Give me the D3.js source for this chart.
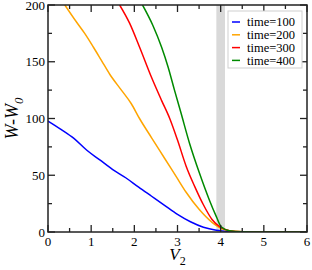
<!DOCTYPE html>
<html>
<head>
<meta charset="utf-8">
<script src="https://cdn.jsdelivr.net/npm/d3@7"></script>
<style>
  body { margin: 0; background: #fff; }
  svg { display: block; font-family: "Liberation Serif", "DejaVu Serif", serif; }
</style>
</head>
<body>
<div id="chart"></div>
<script>
// series: V2 positions and W-W0 values
const seriesNames = ['time=100', 'time=200', 'time=300', 'time=400']
const seriesColors = ['#0000ff', '#ffa500', '#ff0000', '#008a00']

const vBlue = [0, 0.3, 0.6, 0.9, 1.2, 1.5, 1.8, 2.1, 2.4, 2.7, 3.0, 3.3, 3.6, 3.9, 4.2, 4.5, 5, 6]
const wBlue = [97.8, 90.5, 82.5, 72, 63.5, 55, 47.8, 39.5, 31.5, 23.5, 15.5, 9, 4.2, 1.6, 0.5, 0.1, 0, 0]

const vOrange = [0.39, 0.66, 0.85, 1.05, 1.24, 1.43, 1.7, 1.93, 2.12, 2.4, 2.7, 3.0, 3.2, 3.5, 3.8, 4.05, 4.3, 4.6, 5, 6]
const wOrange = [200, 185, 175, 163, 151, 139, 125, 113, 100, 83, 65, 47, 35, 20, 8.5, 2.5, 0.6, 0.1, 0, 0]

const vRed = [1.66, 1.89, 2.12, 2.39, 2.63, 2.82, 3.0, 3.2, 3.4, 3.6, 3.8, 4.0, 4.2, 4.5, 5, 6]
const wRed = [200, 184, 163, 137, 116, 100, 81, 58, 40, 24, 11, 4, 1.2, 0.2, 0, 0]

const vGreen = [2.19, 2.43, 2.63, 2.78, 2.93, 3.08, 3.28, 3.51, 3.74, 3.9, 4.01, 4.2, 4.5, 5, 6]
const wGreen = [200, 182, 163, 145.6, 125, 105, 78, 51.7, 28, 13.5, 4.7, 1.2, 0.2, 0, 0]

const xTicks = [0, 1, 2, 3, 4, 5, 6]
const yTicks = [0, 50, 100, 150, 200]
const band = [3.9, 4.1]

window.addEventListener('load', () => {
  let W = 312, H = 270
  let left = 48, right = 307, top = 5, bottom = 232

  let svg = d3.select('#chart').append('svg')
    .attr('width', W)
    .attr('height', H)

  let x = d3.scaleLinear().domain([0, 6]).range([left, right])
  let y = d3.scaleLinear().domain([0, 200]).range([bottom, top])

  svg.append('clipPath').attr('id', 'clip')
    .append('rect')
    .attr('x', left).attr('y', top)
    .attr('width', right - left).attr('height', bottom - top)

  // grey band around V2 = 4
  svg.append('rect')
    .attr('x', x(band[0]))
    .attr('y', top)
    .attr('width', x(band[1]) - x(band[0]))
    .attr('height', bottom - top)
    .attr('fill', '#d9d9d9')

  let all = [[vBlue, wBlue], [vOrange, wOrange], [vRed, wRed], [vGreen, wGreen]]
  let line = d3.line()
    .x(d => x(d[0]))
    .y(d => y(d[1]))
    .curve(d3.curveMonotoneX)

  let plot = svg.append('g').attr('clip-path', 'url(#clip)')
  all.forEach((s, i) => {
    let pts = s[0].map((v, j) => [v, s[1][j]])
    plot.append('path')
      .attr('d', line(pts))
      .attr('fill', 'none')
      .attr('stroke', seriesColors[i])
      .attr('stroke-width', 1.5)
  })

  // ticks inside on all four sides
  let minorX = d3.range(0.5, 6, 1)
  let minorY = d3.range(25, 200, 50)
  let axisColor = '#222'
  let tk = svg.append('g').attr('stroke', axisColor).attr('stroke-width', 1.3)
  xTicks.forEach(v => {
    tk.append('line').attr('x1', x(v)).attr('x2', x(v)).attr('y1', bottom).attr('y2', bottom - 7)
    tk.append('line').attr('x1', x(v)).attr('x2', x(v)).attr('y1', top).attr('y2', top + 7)
  })
  minorX.forEach(v => {
    tk.append('line').attr('x1', x(v)).attr('x2', x(v)).attr('y1', bottom).attr('y2', bottom - 4)
    tk.append('line').attr('x1', x(v)).attr('x2', x(v)).attr('y1', top).attr('y2', top + 4)
  })
  yTicks.forEach(v => {
    tk.append('line').attr('x1', left).attr('x2', left + 7).attr('y1', y(v)).attr('y2', y(v))
    tk.append('line').attr('x1', right).attr('x2', right - 7).attr('y1', y(v)).attr('y2', y(v))
  })
  minorY.forEach(v => {
    tk.append('line').attr('x1', left).attr('x2', left + 4).attr('y1', y(v)).attr('y2', y(v))
    tk.append('line').attr('x1', right).attr('x2', right - 4).attr('y1', y(v)).attr('y2', y(v))
  })

  svg.append('rect')
    .attr('x', left).attr('y', top)
    .attr('width', right - left).attr('height', bottom - top)
    .attr('fill', 'none')
    .attr('stroke', axisColor)
    .attr('stroke-width', 1.5)

  // tick labels
  svg.append('g').selectAll('text').data(xTicks).join('text')
    .attr('x', d => x(d))
    .attr('y', bottom + 14)
    .attr('text-anchor', 'middle')
    .attr('font-size', 13)
    .text(d => d)
  svg.append('g').selectAll('text').data(yTicks).join('text')
    .attr('x', left - 3)
    .attr('y', d => y(d) + 4.5)
    .attr('text-anchor', 'end')
    .attr('font-size', 13)
    .text(d => d)

  // axis titles
  let xl = svg.append('text')
    .attr('x', (left + right) / 2)
    .attr('y', 260)
    .attr('text-anchor', 'middle')
    .attr('font-size', 17)
    .attr('font-style', 'italic')
  xl.append('tspan').text('V')
  xl.append('tspan').attr('dy', 5).attr('font-size', 12).attr('font-style', 'normal').text('2')

  let yl = svg.append('text')
    .attr('transform', 'translate(18,' + (top + bottom) / 2 + ') rotate(-90)')
    .attr('text-anchor', 'middle')
    .attr('font-size', 18)
    .attr('font-style', 'italic')
  yl.append('tspan').text('W-W')
  yl.append('tspan').attr('dy', 5).attr('font-size', 13).text('0')

  // legend
  let lg = svg.append('g')
  lg.append('rect')
    .attr('x', 228).attr('y', 11)
    .attr('width', 74).attr('height', 57)
    .attr('fill', '#fff')
    .attr('stroke', '#cfcfcf')
    .attr('stroke-width', 1)
  seriesNames.forEach((name, i) => {
    let ly = 22 + i * 12.8
    lg.append('line')
      .attr('x1', 232).attr('x2', 240)
      .attr('y1', ly).attr('y2', ly)
      .attr('stroke', seriesColors[i])
      .attr('stroke-width', 1.5)
    lg.append('text')
      .attr('x', 247).attr('y', ly + 4.3)
      .attr('font-size', 12.5)
      .text(name)
  })
})
</script>
</body>
</html>
